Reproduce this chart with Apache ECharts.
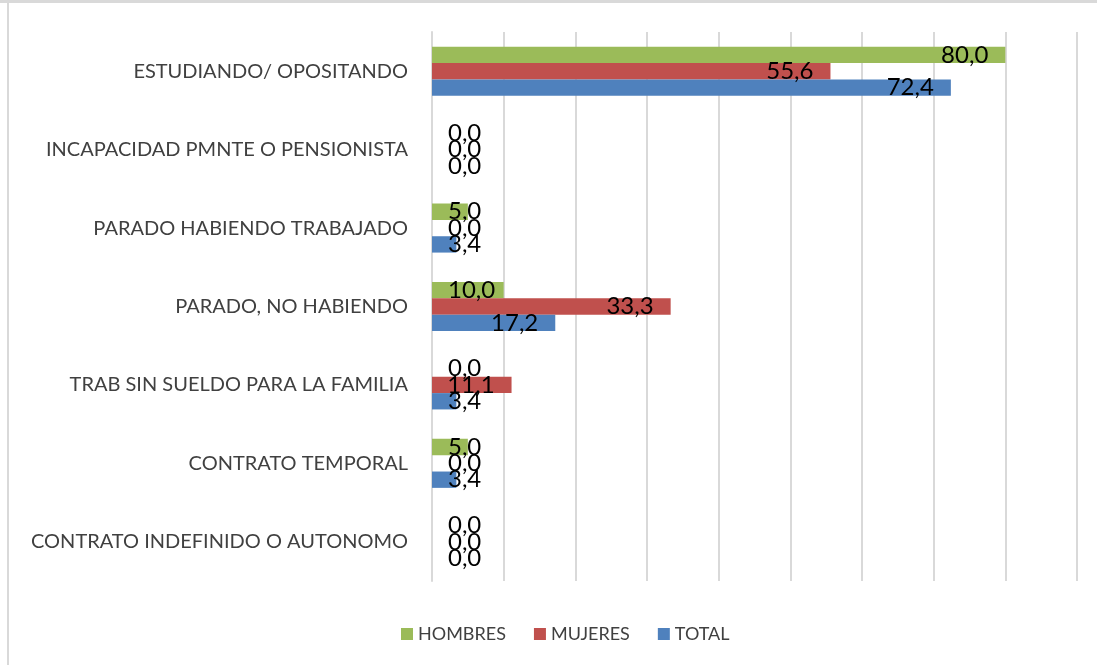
<!DOCTYPE html>
<html>
<head>
<meta charset="utf-8">
<script src="https://cdn.jsdelivr.net/npm/echarts@6/dist/echarts.min.js"></script>
<style>
  * { margin: 0; padding: 0; }
  html, body { background: #fff; }
  #chart { width: 1097px; height: 665px; }
</style>
</head>
<body>
<div id="chart"></div>
<script>
// categorias, de abajo hacia arriba
const categories = [
  'CONTRATO INDEFINIDO O AUTONOMO',
  'CONTRATO TEMPORAL',
  'TRAB SIN SUELDO PARA LA FAMILIA',
  'PARADO, NO HABIENDO',
  'PARADO HABIENDO TRABAJADO',
  'INCAPACIDAD PMNTE O PENSIONISTA',
  'ESTUDIANDO/ OPOSITANDO'
]
const hombres = [0, 5, 0, 10, 5, 0, 80]
const mujeres = [0, 0, 11.1, 33.3, 0, 0, 55.6]
const total = [0, 3.4, 3.4, 17.2, 3.4, 0, 72.4]

const colors = { HOMBRES: '#9BBB59', MUJERES: '#C0504D', TOTAL: '#4F81BD' }
const font = 'Lato, "Open Sans", sans-serif'

function fmt(v) {
  return v.toFixed(1).replace('.', ',')
}

// etiqueta dentro del final de la barra; si no cabe, pegada al eje
function items(values) {
  return values.map(v => {
    if (v < 11) {
      return { value: v, label: { position: [16, '50%'], align: 'left', verticalAlign: 'middle' } }
    }
    return { value: v }
  })
}

function makeSeries(name, values) {
  return {
    name: name,
    type: 'bar',
    barGap: '0%',
    barCategoryGap: '37.5%',
    itemStyle: { color: colors[name] },
    label: {
      show: true,
      position: 'insideRight',
      distance: 17,
      color: '#000',
      fontFamily: font,
      fontSize: 24,
      formatter: p => fmt(p.value)
    },
    data: items(values)
  }
}

const chart = echarts.init(document.getElementById('chart'))
chart.setOption({
  animation: false,
  backgroundColor: '#fff',
  textStyle: { fontFamily: font },
  graphic: [
    { type: 'rect', shape: { x: 0, y: 0, width: 1097, height: 3 }, style: { fill: '#d9d9d9' } },
    { type: 'rect', shape: { x: 7, y: 3, width: 2, height: 662 }, style: { fill: '#d9d9d9' } }
  ],
  legend: {
    data: ['HOMBRES', 'MUJERES', 'TOTAL'],
    left: 396,
    top: 620,
    icon: 'rect',
    itemWidth: 12,
    itemHeight: 12,
    itemGap: 28,
    textStyle: { color: '#404040', fontSize: 18, fontFamily: font }
  },
  grid: { left: 432, right: 20, top: 32, bottom: 84 },
  xAxis: {
    type: 'value',
    min: 0,
    max: 90,
    interval: 10,
    axisLabel: { show: false },
    axisLine: { show: false },
    axisTick: { show: false },
    splitLine: { lineStyle: { color: '#d9d9d9', width: 2 } }
  },
  yAxis: {
    type: 'category',
    data: categories,
    axisTick: { show: false },
    axisLine: { lineStyle: { color: '#d9d9d9', width: 2 } },
    axisLabel: { color: '#404040', fontSize: 20, fontFamily: font, margin: 24 }
  },
  series: [
    makeSeries('HOMBRES', hombres),
    makeSeries('MUJERES', mujeres),
    makeSeries('TOTAL', total)
  ]
})
</script>
</body>
</html>
